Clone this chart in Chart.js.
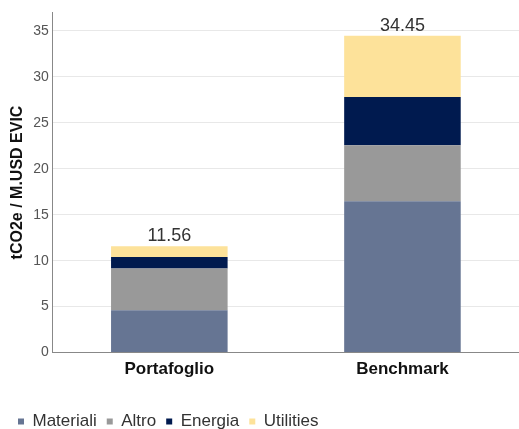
<!DOCTYPE html>
<html>
<head>
<meta charset="utf-8">
<script src="https://cdn.jsdelivr.net/npm/chart.js@4/dist/chart.umd.min.js"></script>
<style>
  html, body { margin: 0; padding: 0; background: #fff; }
  #wrap { width: 519px; height: 429px; position: relative; }
</style>
</head>
<body>
<div id="wrap"><canvas id="c"></canvas></div>
<script>
// ===== 数据 =====
const categories = ['Portafoglio', 'Benchmark'];
const materiali  = [4.60, 16.47];
const altro      = [4.54, 6.08];
const energia    = [1.25, 5.25];
const utilities  = [1.17, 6.65];
const yTicks     = [0, 5, 10, 15, 20, 25, 30, 35];

const FONT = "'Liberation Sans', Arial, sans-serif";

// 柱顶合计标签
const totalsPlugin = {
  id: 'totals',
  afterDatasetsDraw(chart) {
    const { ctx, scales } = chart;
    ctx.save();
    ctx.font = `18px ${FONT}`;
    ctx.fillStyle = '#333';
    ctx.textAlign = 'center';
    ctx.textBaseline = 'bottom';
    categories.forEach((c, i) => {
      const total = materiali[i] + altro[i] + energia[i] + utilities[i];
      const x = scales.x.getPixelForValue(i);
      const y = scales.y.getPixelForValue(total);
      ctx.fillText(total.toFixed(2), x, y - 1);
    });
    ctx.restore();
  },
};

new Chart(document.getElementById('c'), {
  type: 'bar',
  plugins: [totalsPlugin],
  data: {
    labels: categories,
    datasets: [
      { label: 'Materiali', data: materiali, backgroundColor: '#667593' },
      { label: 'Altro',     data: altro,     backgroundColor: '#999999' },
      { label: 'Energia',   data: energia,   backgroundColor: '#001a4f' },
      { label: 'Utilities', data: utilities, backgroundColor: '#fde29a' },
    ],
  },
  options: {
    responsive: true,
    maintainAspectRatio: false,
    animation: false,
    layout: { padding: { top: 1, right: 0, left: 8, bottom: -11 } },
    datasets: { bar: { barPercentage: 0.5, categoryPercentage: 1.0 } },
    plugins: {
      legend: {
        position: 'bottom',
        align: 'start',
        labels: {
          usePointStyle: true, pointStyle: 'rect', boxWidth: 6, boxHeight: 6,
          padding: 10, color: '#333', font: { family: FONT, size: 17 },
        },
      },
      tooltip: { enabled: false },
    },
    scales: {
      x: {
        stacked: true,
        grid: { display: false, drawTicks: false },
        border: { color: '#888', width: 1 },
        ticks: { color: '#111', padding: 7, font: { family: FONT, size: 17, weight: 'bold' } },
        afterFit: axis => { axis.height += 16; },
      },
      y: {
        stacked: true,
        min: 0, max: 37,
        afterBuildTicks: axis => { axis.ticks = yTicks.map(v => ({ value: v })); },
        grid: { color: '#e8e8e8', drawTicks: false },
        border: { color: '#888', width: 1 },
        ticks: { color: '#555', padding: 4, font: { family: FONT, size: 14 } },
        title: {
          display: true, text: 'tCO2e / M.USD EVIC', color: '#111',
          font: { family: FONT, size: 16, weight: 'bold' }, padding: { top: 0, bottom: 2 },
        },
      },
    },
  },
});
</script>
</body>
</html>
